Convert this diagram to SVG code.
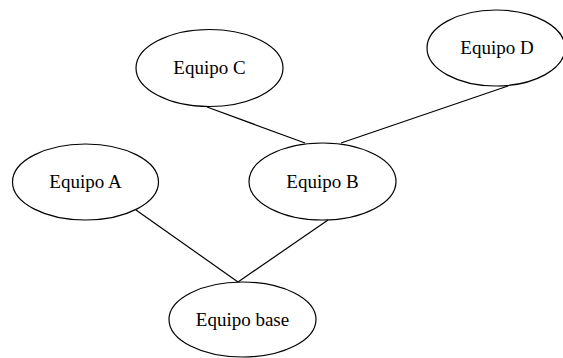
<svg xmlns="http://www.w3.org/2000/svg" width="563" height="358" viewBox="0 0 563 358">
<style>
.node ellipse{fill:none;stroke:#000;stroke-width:1.2}
.node text{font-family:"Liberation Serif","Times New Roman",serif;font-size:19px;fill:#000;text-anchor:middle}
.edges line{stroke:#000;stroke-width:1.2}
</style>
<rect width="563" height="358" fill="#fff"/>
<g class="edges">
<line x1="207" y1="107" x2="305" y2="143"/>
<line x1="508" y1="86" x2="341" y2="143"/>
<line x1="136" y1="210" x2="238" y2="282"/>
<line x1="328" y1="220" x2="238" y2="282"/>
</g>
<g id="nodeC" class="node"><ellipse cx="209.5" cy="68" rx="73.5" ry="38.5"/><text x="209.5" y="74">Equipo C</text></g>
<g id="nodeD" class="node"><ellipse cx="496" cy="48" rx="69" ry="38"/><text x="497" y="54">Equipo D</text></g>
<g id="nodeA" class="node"><ellipse cx="85.5" cy="182" rx="73" ry="38"/><text x="85.5" y="188">Equipo A</text></g>
<g id="nodeB" class="node"><ellipse cx="322.5" cy="181.5" rx="73.5" ry="38.5"/><text x="322.5" y="187.5">Equipo B</text></g>
<g id="nodeBase" class="node"><ellipse cx="242.5" cy="319.5" rx="73.5" ry="37.5"/><text x="242.5" y="325.5">Equipo base</text></g>
</svg>
